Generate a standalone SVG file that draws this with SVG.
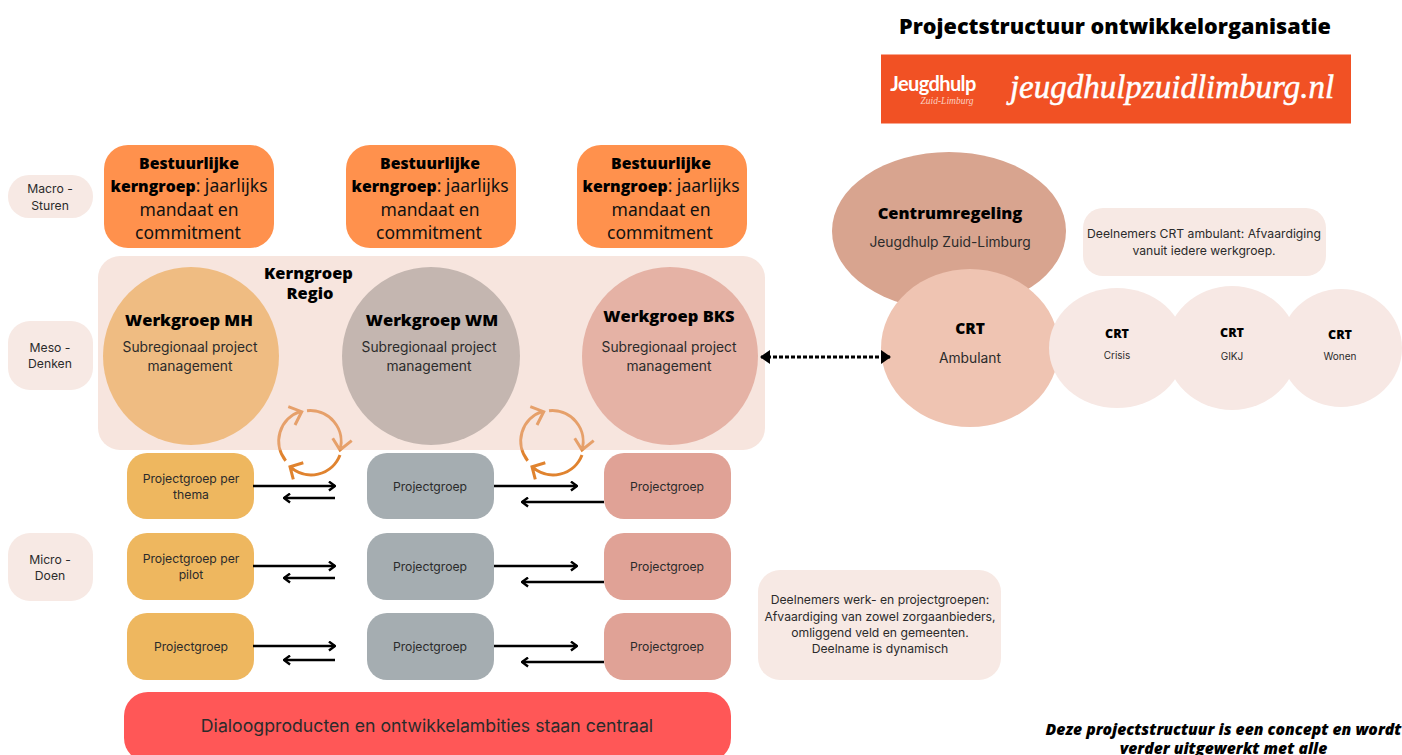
<svg xmlns="http://www.w3.org/2000/svg" width="1402" height="755" viewBox="0 0 1402 755">
<style>
text{font-family:"Inter","Liberation Sans",sans-serif;text-anchor:middle;fill:#2b2b2b}
.h{font-family:"Open Sans","Liberation Sans",sans-serif;font-weight:800;fill:#000}
.s{font-size:12.2px}.m{font-size:13.800px}
.b{font-family:"Noto Sans",sans-serif;font-size:17.500px;fill:#111}
.bb{font-family:"Open Sans",sans-serif;font-weight:800;fill:#000;font-size:15.800px}
.lab{fill:#f7e9e4}
.a{fill:none;stroke:#000;stroke-width:2.400}
.c{fill:none;stroke:url(#cg);stroke-width:3}
</style>
<defs>
<linearGradient id="cg" gradientUnits="userSpaceOnUse" x1="0" y1="400" x2="0" y2="485"><stop offset="0" stop-color="#e6a06a"/><stop offset=".58" stop-color="#e6a06a"/><stop offset=".6" stop-color="#e0832f"/><stop offset="1" stop-color="#e0832f"/></linearGradient>
<marker id="ah" viewBox="0 0 10 10" refX="9" refY="5" markerWidth="11" markerHeight="11" markerUnits="userSpaceOnUse" orient="auto"><path d="M3.500 1L9 5L3.500 9" fill="none" stroke="#000" stroke-width="2.200"/></marker>
<marker id="dh" viewBox="0 0 10 10" refX="9" refY="5" markerWidth="10" markerHeight="14" markerUnits="userSpaceOnUse" orient="auto-start-reverse" preserveAspectRatio="none"><path d="M0 0L10 5L0 10Z" fill="#000"/></marker>
<g id="cyc">
<path class="c" d="M285.700 460.700A31 31 0 0 1 300 411.700M288.300 406.700L301.700 411.700L295 425"/>
<path class="c" d="M307 410.700A31 31 0 0 1 340 450M332.700 438.300L340 450L351.700 440.700"/>
<path class="c" d="M340 455A31 31 0 0 1 290 466.700M303.300 462.700L290 466.700L293.300 479.300"/>
</g>
</defs>

<g id="title"><text class="h" x="1115" y="34" font-size="21.600">Projectstructuur ontwikkelorganisatie</text></g>
<g id="logo">
<rect x="881" y="54.500" width="470" height="69" fill="#f15124"/>
<text x="933" y="91" font-size="20" font-weight="700" style="fill:#fff;font-family:'Lato',sans-serif;letter-spacing:-.6px">Jeugdhulp</text>
<text x="947" y="104" font-size="9.500" style="fill:#fbd0c0;font-family:'Liberation Serif',serif;font-style:italic">Zuid-Limburg</text>
<text x="1172" y="98" font-size="33" stroke="#fff" stroke-width=".5" style="fill:#fff;font-family:'Liberation Serif',serif;font-style:italic">jeugdhulpzuidlimburg.nl</text>
</g>

<g id="macro"><rect class="lab" x="8" y="175" width="85" height="43" rx="21"/><text class="s" x="50" y="193">Macro -</text><text class="s" x="50" y="210">Sturen</text></g>
<g id="meso"><rect class="lab" x="8" y="321" width="85" height="69" rx="22"/><text class="s" x="50" y="352">Meso -</text><text class="s" x="50" y="368">Denken</text></g>
<g id="micro"><rect class="lab" x="8" y="533" width="85" height="68" rx="22"/><text class="s" x="50" y="564">Micro -</text><text class="s" x="50" y="580">Doen</text></g>

<g id="bestuur1"><rect x="104" y="145" width="170" height="103" rx="24" fill="#ff914d"/><text class="b" x="189" y="169"><tspan class="bb">Bestuurlijke</tspan></text><text class="b" x="189" y="192"><tspan class="bb">kerngroep</tspan>: jaarlijks</text><text class="b" x="189" y="216">mandaat en</text><text class="b" x="188" y="239">commitment</text></g>
<g id="bestuur2"><rect x="346" y="145" width="170" height="103" rx="24" fill="#ff914d"/><text class="b" x="430" y="169"><tspan class="bb">Bestuurlijke</tspan></text><text class="b" x="430" y="192"><tspan class="bb">kerngroep</tspan>: jaarlijks</text><text class="b" x="430" y="216">mandaat en</text><text class="b" x="429" y="239">commitment</text></g>
<g id="bestuur3"><rect x="577" y="145" width="170" height="103" rx="24" fill="#ff914d"/><text class="b" x="661" y="169"><tspan class="bb">Bestuurlijke</tspan></text><text class="b" x="661" y="192"><tspan class="bb">kerngroep</tspan>: jaarlijks</text><text class="b" x="661" y="216">mandaat en</text><text class="b" x="660" y="239">commitment</text></g>

<g id="kerngroep"><rect x="98" y="256" width="667" height="194" rx="22" fill="#f7e5de"/><text class="h" x="308.500" y="279" font-size="16.400">Kerngroep</text><text class="h" x="310" y="299" font-size="16.400">Regio</text></g>
<g id="wgmh"><ellipse cx="191" cy="356" rx="88" ry="89" fill="#efbc82"/><text class="h" x="189" y="326" font-size="16.500">Werkgroep MH</text><text class="m" x="190" y="352">Subregionaal project</text><text class="m" x="190" y="371">management</text></g>
<g id="wgwm"><ellipse cx="431" cy="356" rx="89" ry="89" fill="#c4b6b0"/><text class="h" x="432" y="326" font-size="16.500">Werkgroep WM</text><text class="m" x="429" y="352">Subregionaal project</text><text class="m" x="429" y="371">management</text></g>
<g id="wgbks"><ellipse cx="670" cy="356" rx="88" ry="89" fill="#e5b2a5"/><text class="h" x="669" y="322" font-size="16.500">Werkgroep BKS</text><text class="m" x="669" y="352">Subregionaal project</text><text class="m" x="669" y="371">management</text></g>

<g id="pg11"><rect x="127" y="453" width="127" height="66" rx="20" fill="#eeb75f"/><text class="s" x="191" y="483">Projectgroep per</text><text class="s" x="191" y="499">thema</text></g>
<g id="pg12"><rect x="367" y="453" width="127" height="66" rx="20" fill="#a5adb1"/><text class="s" x="430" y="491">Projectgroep</text></g>
<g id="pg13"><rect x="604" y="453" width="127" height="66" rx="20" fill="#e0a296"/><text class="s" x="667" y="491">Projectgroep</text></g>
<g id="pg21"><rect x="127" y="533" width="127" height="67" rx="20" fill="#eeb75f"/><text class="s" x="191" y="563">Projectgroep per</text><text class="s" x="191" y="579">pilot</text></g>
<g id="pg22"><rect x="367" y="533" width="127" height="67" rx="20" fill="#a5adb1"/><text class="s" x="430" y="571">Projectgroep</text></g>
<g id="pg23"><rect x="604" y="533" width="127" height="67" rx="20" fill="#e0a296"/><text class="s" x="667" y="571">Projectgroep</text></g>
<g id="pg31"><rect x="127" y="613" width="127" height="67" rx="20" fill="#eeb75f"/><text class="s" x="191" y="651">Projectgroep</text></g>
<g id="pg32"><rect x="367" y="613" width="127" height="67" rx="20" fill="#a5adb1"/><text class="s" x="430" y="651">Projectgroep</text></g>
<g id="pg33"><rect x="604" y="613" width="127" height="67" rx="20" fill="#e0a296"/><text class="s" x="667" y="651">Projectgroep</text></g>

<g id="dialoog"><rect x="124" y="692" width="607" height="70" rx="24" fill="#ff5757"/><text x="427" y="732" font-size="17.700">Dialoogproducten en ontwikkelambities staan centraal</text></g>

<g id="centrum"><ellipse cx="949" cy="231" rx="117" ry="79" fill="#d8a48f"/><text class="h" x="950" y="219" font-size="16.500">Centrumregeling</text><text class="m" x="950" y="247">Jeugdhulp Zuid-Limburg</text></g>
<g id="crtamb"><ellipse cx="970" cy="348" rx="89" ry="79" fill="#efc4b2"/><text class="h" x="970" y="334" font-size="15.500">CRT</text><text class="m" x="970" y="363">Ambulant</text></g>
<g id="crtwonen"><ellipse cx="1341" cy="348" rx="61" ry="59" fill="#f7e8e4"/><text class="h" x="1340" y="339" font-size="12.500">CRT</text><text x="1340" y="360" font-size="10">Wonen</text></g>
<g id="crtgikj"><ellipse cx="1232" cy="348" rx="66" ry="62" fill="#f7e8e4"/><text class="h" x="1232" y="337" font-size="12.500">CRT</text><text x="1232" y="360" font-size="10">GIKJ</text></g>
<g id="crtcrisis"><ellipse cx="1117" cy="348" rx="68" ry="60" fill="#f7e8e4"/><text class="h" x="1117" y="338" font-size="12.500">CRT</text><text x="1117" y="359" font-size="10">Crisis</text></g>

<g id="noot1"><rect class="lab" x="1083" y="208" width="243" height="68" rx="20"/><text class="s" x="1204" y="238">Deelnemers CRT ambulant: Afvaardiging</text><text class="s" x="1204" y="255">vanuit iedere werkgroep.</text></g>
<g id="noot2"><rect class="lab" x="758" y="570" width="243" height="110" rx="22"/><text class="s" x="880" y="604">Deelnemers werk- en projectgroepen:</text><text class="s" x="880" y="621">Afvaardiging van zowel zorgaanbieders,</text><text class="s" x="880" y="637">omliggend veld en gemeenten.</text><text class="s" x="880" y="653">Deelname is dynamisch</text></g>
<g id="noot3"><text x="1223.500" y="735" font-size="15.700" font-weight="800" font-style="italic" style="font-family:'Open Sans',sans-serif;fill:#000">Deze projectstructuur is een concept en wordt</text><text x="1223.500" y="753.500" font-size="15.700" font-weight="800" font-style="italic" style="font-family:'Open Sans',sans-serif;fill:#000">verder uitgewerkt met alle</text></g>

<g id="connectors">
<use href="#cyc"/><use href="#cyc" x="242"/>
<path class="a" marker-end="url(#ah)" d="M253 486H335"/><path class="a" marker-end="url(#ah)" d="M335 498H284"/>
<path class="a" marker-end="url(#ah)" d="M494 486H577"/><path class="a" marker-end="url(#ah)" d="M604 502H522"/>
<path class="a" marker-end="url(#ah)" d="M253 566H335"/><path class="a" marker-end="url(#ah)" d="M335 578H284"/>
<path class="a" marker-end="url(#ah)" d="M494 566H577"/><path class="a" marker-end="url(#ah)" d="M604 582H522"/>
<path class="a" marker-end="url(#ah)" d="M253 646H335"/><path class="a" marker-end="url(#ah)" d="M335 660H284"/>
<path class="a" marker-end="url(#ah)" d="M494 646H577"/><path class="a" marker-end="url(#ah)" d="M604 662H522"/>
<path fill="none" stroke="#000" stroke-width="3" stroke-dasharray="4 2" marker-start="url(#dh)" marker-end="url(#dh)" d="M761 357H890"/>
</g>
</svg>
